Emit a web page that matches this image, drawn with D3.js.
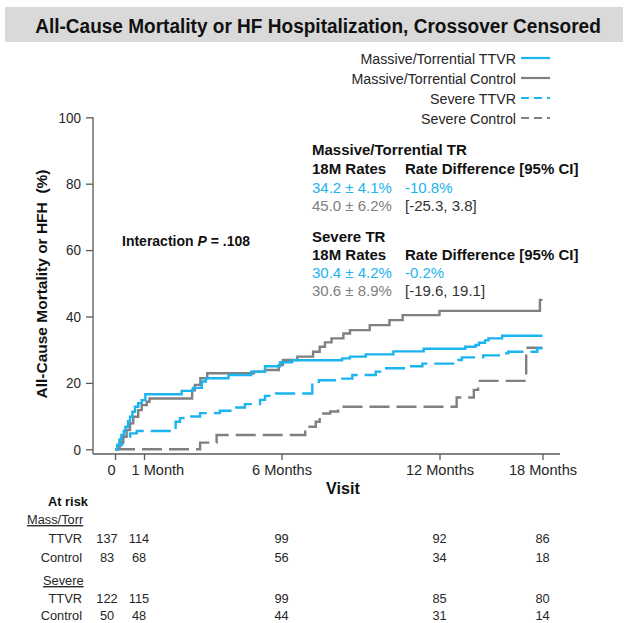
<!DOCTYPE html>
<html>
<head>
<meta charset="utf-8">
<script src="https://cdn.jsdelivr.net/npm/d3@7"></script>
<style>
  html, body { margin: 0; padding: 0; background: #ffffff; }
  svg { display: block; font-family: "Liberation Sans", Arial, Helvetica, sans-serif; }
</style>
</head>
<body>
<svg id="chart" width="628" height="623"></svg>
<script>
// ---- Axis ticks ----
const visitMonths = [0, 1, 6, 12, 18];
const visitLabels = ["0", "1 Month", "6 Months", "12 Months", "18 Months"];
const yTicks = [0, 20, 40, 60, 80, 100];

// ---- Cumulative event curves (month, %) ----
const massTtvrMonths = [0, 0.08, 0.15, 0.22, 0.3, 0.36, 0.45, 0.52, 0.6, 0.69, 0.8, 0.92, 1.05, 2.37, 2.78, 3.1, 3.25, 4.07, 4.9, 5.4, 5.95, 6.4, 8.3, 8.6, 9.2, 10.25, 11.4, 13.5, 14.1, 14.3, 14.65, 14.85, 15.65, 18];
const massTtvrPct    = [0, 1.3, 3.0, 4.3, 5.5, 6.8, 8.5, 9.8, 11.3, 12.8, 13.9, 14.8, 16.6, 17.6, 18.5, 20.4, 21.4, 22.4, 23.4, 25.0, 26.2, 26.8, 27.4, 27.9, 28.6, 29.5, 30.3, 30.9, 31.4, 32.1, 32.8, 33.4, 34.2, 34.2];

const massCtrlMonths = [0, 0.1, 0.17, 0.28, 0.4, 0.52, 0.63, 0.8, 0.92, 1.1, 1.2, 2.75, 2.85, 3.05, 3.3, 5.0, 5.4, 5.9, 6.05, 6.6, 7.2, 7.45, 7.65, 7.9, 8.35, 8.6, 9.35, 10.1, 10.6, 12.0, 17.85, 18];
const massCtrlPct    = [0, 0.8, 2.3, 3.8, 5.8, 7.8, 9.8, 11.8, 13.3, 14.3, 15.3, 17.8, 19.4, 21.4, 22.9, 23.4, 23.9, 25.4, 26.9, 27.9, 29.4, 30.9, 32.2, 33.4, 34.9, 35.9, 37.4, 38.9, 40.4, 41.7, 45.0, 45.0];

const sevTtvrMonths = [0, 0.1, 0.23, 0.28, 0.52, 0.75, 2.15, 2.31, 2.43, 3.04, 3.76, 4.25, 4.67, 5.22, 5.4, 5.8, 7.17, 7.42, 8.31, 8.69, 9.58, 9.83, 10.71, 11.35, 13.1, 13.3, 14.55, 15.7, 16.0, 17.7, 18];
const sevTtvrPct    = [0, 1.3, 1.8, 3.8, 4.8, 5.5, 8.3, 9.4, 9.9, 10.9, 11.6, 12.6, 13.6, 14.9, 16.1, 16.8, 20.3, 20.8, 21.3, 22.4, 23.4, 24.4, 25.0, 25.8, 26.9, 27.7, 28.3, 28.9, 29.4, 30.4, 30.4];

const sevCtrlMonths = [0, 3.04, 3.64, 6.9, 7.3, 7.45, 7.85, 8.15, 13.0, 14.0, 14.25, 17.05, 18];
const sevCtrlPct    = [0, 2.0, 4.3, 6.8, 8.3, 10.8, 11.4, 12.8, 15.6, 17.9, 20.6, 30.6, 30.6];

const seriesNames = ["Massive/Torrential TTVR", "Massive/Torrential Control", "Severe TTVR", "Severe Control"];

// ---- 18-month summary ----
const massSE = ["4.1", "6.2"], massDiff = ["-10.8%", "[-25.3, 3.8]"];
const sevSE = ["4.2", "8.9"], sevDiff = ["-0.2%", "[-19.6, 19.1]"];

// ---- Numbers at risk at each visit ----
const atRiskMassTtvr = [137, 114, 99, 92, 86];
const atRiskMassCtrl = [83, 68, 56, 34, 18];
const atRiskSevTtvr  = [122, 115, 99, 85, 80];
const atRiskSevCtrl  = [50, 48, 44, 31, 14];

// ---- Styling ----
const BLUE = "#1ab4ef";
const GRAY = "#808080";
const INK = "#262626";
const SX = 0.95; // slight horizontal condensing of the text face

const svg = d3.select("#chart");

// text helper: glyphs condensed horizontally, anchored at (x, y)
function txt(parent, x, y, s, o = {}) {
  const t = parent.append("text")
    .attr("transform", `translate(${x},${y}) scale(${o.sx ?? SX},1)`)
    .attr("font-size", o.size ?? 14)
    .attr("font-weight", o.weight ?? "normal")
    .attr("text-anchor", o.anchor ?? "start")
    .attr("fill", o.fill ?? INK)
    .style("white-space", "pre")
    .text(s);
  if (o.underline) t.style("text-decoration", "underline");
  return t;
}

// ---- Title bar ----
svg.append("rect").attr("x", 5).attr("y", 7).attr("width", 618).attr("height", 35).attr("fill", "#d9d9d9");
const title = svg.append("text")
  .attr("text-anchor", "middle")
  .attr("font-size", 21).attr("font-weight", "bold").attr("fill", "#111")
  .text("All-Cause Mortality or HF Hospitalization, Crossover Censored");
const titleW = title.node().getComputedTextLength();
title.attr("transform", `translate(318,32.5) scale(${566 / titleW},1)`);

// ---- Scales ----
const x = d3.scaleLinear().domain(visitMonths).range([115, 144, 281.5, 439.5, 542.5]);
const y = d3.scaleLinear().domain([0, 100]).range([449.3, 117.3]);
const axisY = 454, axisLeft = 93, axisRight = 560;

// ---- Axes ----
const axisColor = "#595959";
const yAxis = svg.append("g").attr("transform", `translate(${axisLeft},0)`)
  .call(d3.axisLeft(y).tickValues(yTicks).tickSize(7).tickPadding(4));
yAxis.select(".domain").remove();
yAxis.selectAll(".tick line").attr("stroke", axisColor).attr("stroke-width", 1.3);
yAxis.selectAll(".tick text")
  .attr("font-size", 15).attr("fill", INK).attr("font-family", null)
  .attr("x", -12 / 0.9).attr("transform", "scale(0.9,1)");

const xAxis = svg.append("g").attr("transform", `translate(0,${axisY})`)
  .call(d3.axisBottom(x).tickValues(visitMonths).tickFormat((d, i) => visitLabels[i]).tickSize(6).tickPadding(4));
xAxis.select(".domain").remove();
xAxis.selectAll(".tick line").attr("stroke", axisColor).attr("stroke-width", 1.3);
xAxis.selectAll(".tick text")
  .attr("font-size", 14.6).attr("fill", INK).attr("font-family", null)
  .attr("y", 11)
  .each(function (d, i) {
    const t = d3.select(this);
    if (i === 0) t.attr("text-anchor", "end").attr("x", 0);
    if (i === 1) t.attr("text-anchor", "start").attr("x", -13);
  });

svg.append("line").attr("x1", axisLeft).attr("x2", axisLeft).attr("y1", y(100)).attr("y2", axisY)
  .attr("stroke", axisColor).attr("stroke-width", 1.3);
svg.append("line").attr("x1", axisLeft).attr("x2", axisRight).attr("y1", axisY).attr("y2", axisY)
  .attr("stroke", axisColor).attr("stroke-width", 1.3);

// axis titles
txt(svg, 343, 494, "Visit", { size: 17, weight: "bold", anchor: "middle", fill: "#111" });
svg.append("text")
  .attr("transform", `translate(47,284) scale(0.95,1) rotate(-90)`)
  .attr("text-anchor", "middle").attr("font-size", 15.5).attr("font-weight", "bold").attr("fill", "#111")
  .style("white-space", "pre")
  .text("All-Cause Mortality or HFH  (%)");

// ---- Curves ----
const line = d3.line().x(d => x(d[0])).y(d => y(d[1])).curve(d3.curveStepAfter);
const series = [
  { m: massTtvrMonths, v: massTtvrPct, color: BLUE, dash: null },
  { m: massCtrlMonths, v: massCtrlPct, color: GRAY, dash: null },
  { m: sevTtvrMonths,  v: sevTtvrPct,  color: BLUE, dash: "20,7" },
  { m: sevCtrlMonths,  v: sevCtrlPct,  color: GRAY, dash: "20,7" }
];
// dashed severe curves underneath, solid ones on top
[3, 2, 1, 0].forEach(i => {
  const s = series[i];
  svg.append("path")
    .datum(d3.zip(s.m, s.v))
    .attr("d", line)
    .attr("fill", "none")
    .attr("stroke", s.color)
    .attr("stroke-width", 2.4)
    .attr("stroke-dasharray", s.dash);
});

// ---- Legend ----
const legendY = [58, 78, 98, 118];
seriesNames.forEach((name, i) => {
  txt(svg, 516, legendY[i] + 5.5, name, { size: 15, sx: 0.95, anchor: "end" });
  svg.append("line")
    .attr("x1", 521).attr("x2", 550).attr("y1", legendY[i]).attr("y2", legendY[i])
    .attr("stroke", series[i].color).attr("stroke-width", 2.2)
    .attr("stroke-dasharray", series[i].dash ? "8,5" : null);
});

// ---- Interaction annotation ----
const inter = txt(svg, 122, 246, "", { size: 14, sx: 1, weight: "bold", fill: "#111" });
inter.append("tspan").text("Interaction ");
inter.append("tspan").attr("font-style", "italic").text("P");
inter.append("tspan").text(" = .108");

// ---- 18-month rate summary ----
const c1 = 312, c2 = 405, fs = 15, ax = 1;
const last = a => a[a.length - 1].toFixed(1);
txt(svg, c1, 155, "Massive/Torrential TR", { size: fs, sx: ax, weight: "bold", fill: "#111" });
txt(svg, c1, 173.5, "18M Rates", { size: fs, sx: ax, weight: "bold", fill: "#111" });
txt(svg, c2, 173.5, "Rate Difference [95% CI]", { size: fs, sx: ax, weight: "bold", fill: "#111" });
txt(svg, c1, 192.5, `${last(massTtvrPct)} ± ${massSE[0]}%`, { size: fs, sx: ax, fill: BLUE });
txt(svg, c2, 192.5, massDiff[0], { size: fs, sx: ax, fill: BLUE });
txt(svg, c1, 210.5, `${last(massCtrlPct)} ± ${massSE[1]}%`, { size: fs, sx: ax, fill: GRAY });
txt(svg, c2, 210.5, massDiff[1], { size: fs, sx: ax, fill: "#333" });

txt(svg, c1, 241.5, "Severe TR", { size: fs, sx: ax, weight: "bold", fill: "#111" });
txt(svg, c1, 259.5, "18M Rates", { size: fs, sx: ax, weight: "bold", fill: "#111" });
txt(svg, c2, 259.5, "Rate Difference [95% CI]", { size: fs, sx: ax, weight: "bold", fill: "#111" });
txt(svg, c1, 277.5, `${last(sevTtvrPct)} ± ${sevSE[0]}%`, { size: fs, sx: ax, fill: BLUE });
txt(svg, c2, 277.5, sevDiff[0], { size: fs, sx: ax, fill: BLUE });
txt(svg, c1, 295.5, `${last(sevCtrlPct)} ± ${sevSE[1]}%`, { size: fs, sx: ax, fill: GRAY });
txt(svg, c2, 295.5, sevDiff[1], { size: fs, sx: ax, fill: "#333" });

// ---- Numbers at risk ----
const colShift = [-8, -5, 0, 0, 0];
const tableSize = 13.5;
txt(svg, 48, 506, "At risk", { size: 13.5, weight: "bold", fill: "#111" });
txt(svg, 27, 524, "Mass/Torr", { size: tableSize, underline: true });
txt(svg, 43, 585, "Severe", { size: tableSize, underline: true });

const rows = [
  { label: "TTVR", vals: atRiskMassTtvr, y: 543 },
  { label: "Control", vals: atRiskMassCtrl, y: 562 },
  { label: "TTVR", vals: atRiskSevTtvr, y: 603 },
  { label: "Control", vals: atRiskSevCtrl, y: 619.5 }
];
rows.forEach(r => {
  txt(svg, 82, r.y, r.label, { size: tableSize, anchor: "end" });
  r.vals.forEach((v, i) => {
    txt(svg, x(visitMonths[i]) + colShift[i], r.y, String(v), { size: tableSize, anchor: "middle" });
  });
});
</script>
</body>
</html>
